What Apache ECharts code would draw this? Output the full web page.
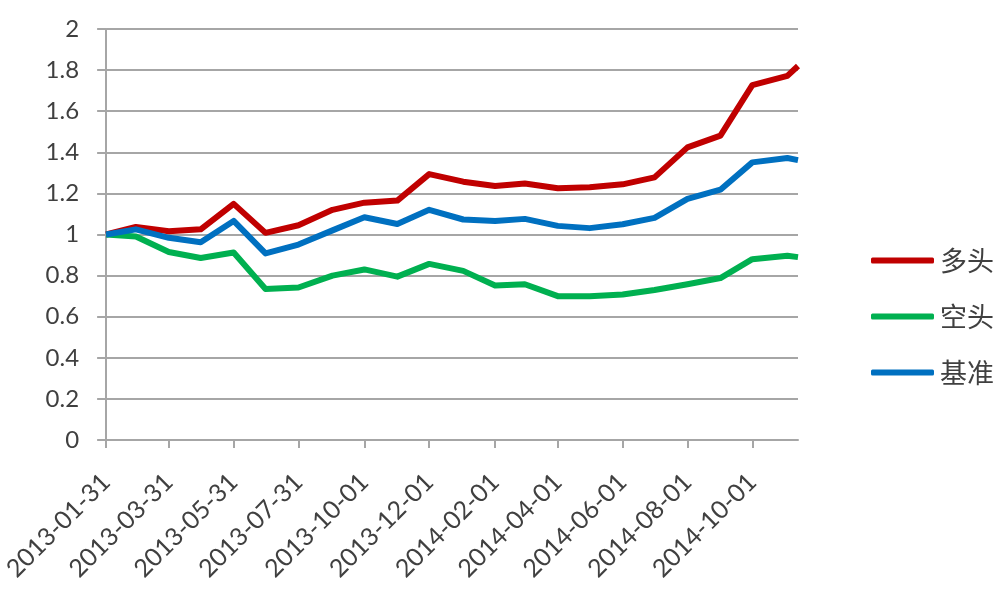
<!DOCTYPE html>
<html>
<head>
<meta charset="utf-8">
<script src="https://cdn.jsdelivr.net/npm/echarts@6/dist/echarts.min.js"></script>
<style>
html,body{margin:0;padding:0;background:#fff;}
#c{width:1008px;height:597px;}
</style>
</head>
<body>
<div id="c"></div>
<script>
var dates = ['2013-01-31','2013-02-28','2013-03-31','2013-04-30','2013-05-31','2013-06-30','2013-07-31','2013-09-01','2013-10-01','2013-11-01','2013-12-01','2014-01-02','2014-02-01','2014-03-01','2014-04-01','2014-05-01','2014-06-01','2014-07-01','2014-08-01','2014-09-01','2014-10-01','2014-11-03','2014-11-13'];
var longVals  = [1.00,1.037,1.016,1.025,1.149,1.008,1.045,1.12,1.155,1.165,1.294,1.257,1.236,1.248,1.225,1.23,1.244,1.278,1.424,1.481,1.727,1.772,1.82];
var shortVals = [1.00,0.99,0.915,0.886,0.912,0.735,0.742,0.80,0.83,0.795,0.857,0.823,0.752,0.758,0.70,0.70,0.708,0.73,0.758,0.788,0.88,0.897,0.89];
var benchVals = [1.00,1.025,0.984,0.962,1.066,0.908,0.951,1.02,1.084,1.051,1.12,1.073,1.066,1.076,1.042,1.031,1.05,1.081,1.173,1.218,1.351,1.372,1.362];
var xTickLabels = ['2013-01-31','2013-03-31','2013-05-31','2013-07-31','2013-10-01','2013-12-01','2014-02-01','2014-04-01','2014-06-01','2014-08-01','2014-10-01'];
var seriesNames = ['多头','空头','基准'];
var seriesColors = ['#C00000','#00B050','#0070C0'];

var DAY = 86400000;
function utc(s){var p=s.split('-');return Date.UTC(+p[0],+p[1]-1,+p[2]);}
var t0 = utc(dates[0]);
function dayNum(s){return Math.round((utc(s)-t0)/DAY);}
function fmt(n){var d=new Date(t0+Math.round(n)*DAY);function z(k){return k<10?'0'+k:''+k;}return d.getUTCFullYear()+'-'+z(d.getUTCMonth()+1)+'-'+z(d.getUTCDate());}
function pairs(vals){return vals.map(function(v,i){return [dayNum(dates[i]),v];});}
var tickDays = xTickLabels.map(dayNum);

var chart = echarts.init(document.getElementById('c'));
var allVals=[longVals,shortVals,benchVals];
chart.setOption({
  animation:false,
  backgroundColor:'#ffffff',
  grid:{left:101,right:210,top:29,bottom:157,containLabel:false},
  legend:{
    orient:'vertical',left:866,top:242,
    itemWidth:63,itemHeight:6,itemGap:29,
    icon:'roundRect',
    textStyle:{fontFamily:'Noto Sans CJK SC',fontSize:27,color:'#404040',lineHeight:25,padding:[0,0,0,1]},
    data:seriesNames
  },
  xAxis:{
    type:'value',
    min:0,max:dayNum(dates[dates.length-1]),
    axisLine:{show:true,lineStyle:{color:'#A6A6A6',width:2}},
    axisTick:{show:true,length:8,lineStyle:{color:'#A6A6A6',width:2},customValues:tickDays},
    axisLabel:{rotate:45,margin:38,fontFamily:'Lato',fontSize:25,color:'#404040',customValues:tickDays,formatter:function(v){return fmt(v);}},
    splitLine:{show:false}
  },
  yAxis:{
    type:'value',min:0,max:2,interval:0.2,
    axisLine:{show:true,lineStyle:{color:'#A6A6A6',width:2}},
    axisTick:{show:true,length:9,lineStyle:{color:'#A6A6A6',width:2}},
    axisLabel:{margin:27,fontFamily:'Lato',fontSize:24,color:'#404040'},
    splitLine:{show:true,lineStyle:{color:'#A6A6A6',width:2}}
  },
  series:seriesNames.map(function(n,i){
    return {name:n,type:'line',data:pairs(allVals[i]),showSymbol:false,symbol:'none',clip:true,
      lineStyle:{color:seriesColors[i],width:6,cap:'butt',join:'round'},
      itemStyle:{color:seriesColors[i]}};
  })
});
</script>
</body>
</html>
